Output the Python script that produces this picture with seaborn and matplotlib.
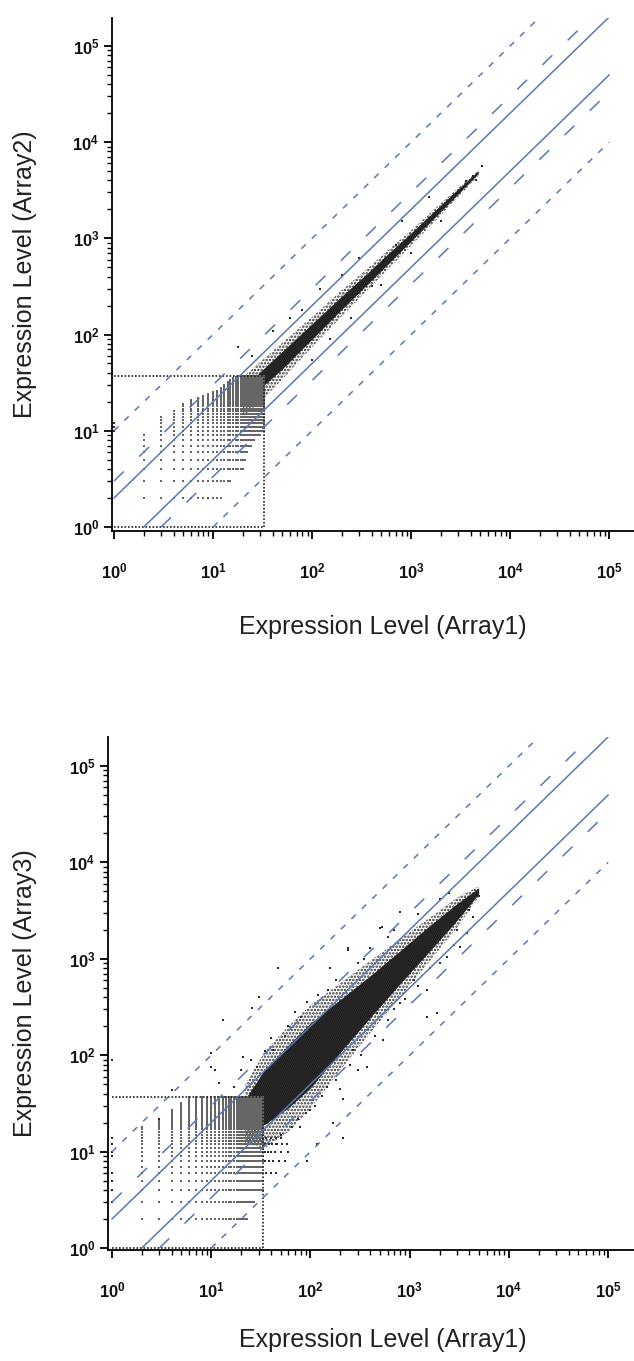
import numpy as np
import pandas as pd
import seaborn as sns
import matplotlib.pyplot as plt
from matplotlib.ticker import LogLocator, FuncFormatter, NullFormatter

# fold-change guide lines: 2x solid, 3x dashed, 10x dotted
fold_factors = [2, 3, 10]
box_x, box_y = 33, 37

# ---- Array1 vs Array2 ----
arr2_band_x = [20, 30, 50, 80, 120, 200, 350, 600, 1000, 1800, 3000, 4800]
arr2_core_lo = [20, 27, 43, 70, 106, 180, 315, 545, 920, 1680, 2850, 4650]
arr2_core_hi = [26, 40, 65, 102, 150, 245, 410, 690, 1110, 1960, 3200, 4950]
arr2_outer_lo = [14, 20, 34, 58, 90, 155, 280, 490, 840, 1560, 2700, 4500]
arr2_outer_hi = [36, 52, 82, 125, 180, 290, 470, 770, 1210, 2100, 3350, 5100]
arr2_grid_y = list(range(2, 38))
arr2_grid_xmin = [2, 2, 2, 2, 2, 2, 2, 2, 3, 3, 3, 3, 3, 4, 4, 5, 5, 5,
                  6, 6, 7, 8, 9, 10, 11, 12, 12, 13, 13, 14, 14, 15, 15, 16, 17, 18]
arr2_grid_xmax = [12, 15, 20, 21, 22, 24, 26, 30, 33, 33, 33, 33, 33, 33, 33, 33, 33, 33,
                  33, 33, 33, 33, 33, 33, 33, 33, 33, 33, 33, 33, 33, 33, 33, 33, 33, 33]
arr2_out_x = [1, 1, 1, 18, 25, 40, 60, 80, 120, 200, 300, 800, 1500, 100, 150, 250,
              500, 1000, 2000, 4200, 4500, 5200, 3600, 2600, 700, 400]
arr2_out_y = [10, 11, 12, 75, 60, 110, 150, 180, 300, 420, 620, 1500, 2700, 55, 90, 150,
              330, 700, 1500, 4400, 4000, 5600, 3900, 2500, 850, 320]

# ---- Array1 vs Array3 ----
arr3_band_x = [22, 35, 60, 100, 200, 400, 800, 1500, 3000, 5000]
arr3_core_lo = [18, 19, 28, 45, 105, 240, 540, 1100, 2450, 4650]
arr3_core_hi = [34, 70, 125, 210, 370, 650, 1180, 2050, 3650, 5350]
arr3_outer_lo = [12, 11, 16, 28, 70, 170, 400, 880, 2100, 4450]
arr3_outer_hi = [50, 110, 200, 330, 560, 950, 1600, 2550, 4300, 5650]
arr3_grid_y = list(range(2, 38))
arr3_grid_xmin = [2, 2, 2, 2, 2, 2, 2, 2, 2, 2, 2, 2, 2, 2, 2, 2, 2,
                  3, 3, 3, 3, 4, 4, 4, 4, 4, 5, 5, 5, 5, 5, 6, 6, 6, 6, 6]
arr3_grid_xmax = [23, 27] + [33] * 34
arr3_out_x = [47, 13, 30, 525, 400, 70, 93, 158, 240, 26, 42, 10, 800, 500, 240, 3230,
              4370, 2400, 1500, 1000, 1900, 3800, 800, 1500, 540, 370, 213, 213, 117, 92,
              170, 148, 270, 470, 100, 126, 79, 1, 10, 11, 12, 17, 21, 29, 4, 3,
              1, 1, 1, 1, 1, 1, 1, 1,
              60, 80, 120, 150, 180, 300, 350, 600, 700, 1200, 2000, 2500, 50, 65, 90,
              130, 180, 250, 320, 450, 600, 900, 1200, 2000, 2800, 40, 35, 55, 25, 20,
              45, 75, 110, 200, 300, 700, 1100, 1600, 3000, 4000, 5000,
              36, 40, 45, 35, 38, 42, 48, 55, 35, 37, 40, 44, 50, 60, 35, 38, 41, 46,
              52, 58, 36, 40, 45, 50]
arr3_out_y = [800, 230, 400, 2140, 1290, 280, 355, 800, 1230, 310, 113, 76, 3080, 2090,
              1290, 1320, 2700, 1050, 475, 710, 275, 1860, 350, 250, 145, 76, 35, 14, 12,
              8, 20, 47, 113, 275, 27, 76, 18, 89, 105, 70, 51, 47, 96, 76, 44, 22,
              3, 4, 5, 6, 9, 10, 12, 14,
              200, 250, 420, 480, 600, 900, 1000, 1700, 2000, 2900, 4200, 4800, 15, 18,
              25, 38, 55, 80, 100, 160, 230, 380, 520, 900, 1400, 150, 110, 160, 90, 70,
              12, 22, 30, 45, 70, 300, 600, 800, 2000, 3200, 4500,
              6, 6, 6, 8, 8, 8, 8, 8, 10, 10, 10, 10, 10, 10, 12, 12, 12, 12,
              12, 12, 14, 14, 14, 14]

line_color = '#5a78b2'
line_styles = {2: '-', 3: (0, (9, 14)), 10: (0, (4, 5.5))}

sns.set_theme(style='ticks')
plt.rcParams['font.family'] = ['Liberation Sans', 'DejaVu Sans']
plt.rcParams['mathtext.fontset'] = 'custom'
plt.rcParams['mathtext.rm'] = 'Liberation Sans'
plt.rcParams['mathtext.bf'] = 'Liberation Sans:bold'
plt.rcParams['mathtext.it'] = 'Liberation Sans:italic'
plt.rcParams['hatch.linewidth'] = 1.2


def grid_points(ys, xmins, xmaxs):
    rows = []
    for y, a, b in zip(ys, xmins, xmaxs):
        for x in range(a, b + 1):
            rows.append((x, y))
    return pd.DataFrame(rows, columns=['x', 'y'])


def draw_panel(ax, band_x, core_lo, core_hi, outer_lo, outer_hi,
               gy, gxmin, gxmax, out_x, out_y, xlim, ylim):
    ax.set_xscale('log')
    ax.set_yscale('log')

    # dense cloud of expressed genes
    ax.fill_between(band_x, outer_lo, outer_hi, facecolor='none', edgecolor='#2e2e2e',
                    hatch='.....', linewidth=0, zorder=1)
    ax.fill_between(band_x, core_lo, core_hi, facecolor='#3c3c3c', edgecolor='#111111',
                    hatch='........', linewidth=0, zorder=1)

    grid = grid_points(gy, gxmin, gxmax)
    sns.scatterplot(data=grid, x='x', y='y', ax=ax, s=0.6, marker='s', color='#666666',
                    linewidth=0, legend=False, zorder=2)
    sns.scatterplot(x=out_x, y=out_y, ax=ax, s=1.3, marker='s', color='#2a2a2a',
                    linewidth=0, legend=False, zorder=2)

    # low-intensity cutoff box
    box_style = dict(color='#222222', lw=1.2, ls=(0, (1, 1.1)), zorder=3)
    ax.plot([1, box_x], [box_y, box_y], **box_style)
    ax.plot([box_x, box_x], [1, box_y], **box_style)
    ax.plot([1, box_x], [1, 1], **box_style)

    for f in fold_factors:
        kw = dict(color=line_color, lw=1.1, ls=line_styles[f], zorder=4)
        ax.plot([1, 1e5], [f, f * 1e5], **kw)
        ax.plot([f, 1e5], [1, 1e5 / f], **kw)

    ax.set_xlim(*xlim)
    ax.set_ylim(*ylim)
    ax.set_xlabel('')
    ax.set_ylabel('')
    sns.despine(ax=ax)
    for side in ['left', 'bottom']:
        ax.spines[side].set_linewidth(1.3)
        ax.spines[side].set_color('black')

    fmt = FuncFormatter(lambda v, p: r'$\mathbf{10^{%d}}$' % round(np.log10(v)))
    for axis in [ax.xaxis, ax.yaxis]:
        axis.set_major_locator(LogLocator(base=10, numticks=12))
        axis.set_minor_locator(LogLocator(base=10, subs=range(2, 10), numticks=12))
        axis.set_major_formatter(fmt)
        axis.set_minor_formatter(NullFormatter())
    ax.tick_params(which='major', length=6, width=1.3, direction='out',
                   labelsize=12, color='black', labelcolor='#111111')
    ax.tick_params(which='minor', length=3.5, width=1.0, direction='out', color='black')
    ax.tick_params(axis='x', which='major', pad=16)
    ax.tick_params(axis='y', which='major', pad=3)


W, H = 634, 1361
fig = plt.figure(figsize=(W / 100, H / 100), dpi=100)

ax1 = fig.add_axes([112 / W, 1 - 531 / H, 522 / W, 513 / H])
draw_panel(ax1, arr2_band_x, arr2_core_lo, arr2_core_hi, arr2_outer_lo, arr2_outer_hi,
           arr2_grid_y, arr2_grid_xmin, arr2_grid_xmax, arr2_out_x, arr2_out_y,
           (10 ** -0.02, 10 ** 5.25), (10 ** -0.042, 10 ** 5.29))

ax2 = fig.add_axes([108 / W, 1 - 1250 / H, 526 / W, 513 / H])
draw_panel(ax2, arr3_band_x, arr3_core_lo, arr3_core_hi, arr3_outer_lo, arr3_outer_hi,
           arr3_grid_y, arr3_grid_xmin, arr3_grid_xmax, arr3_out_x, arr3_out_y,
           (10 ** -0.04, 10 ** 5.26), (10 ** -0.02, 10 ** 5.30))

label_kw = dict(fontsize=18, color='#222222', ha='center', va='center')
fig.text(383 / W, 1 - 627 / H, 'Expression Level (Array1)', **label_kw)
fig.text(25 / W, 1 - 274 / H, 'Expression Level (Array2)', rotation=90, **label_kw)
fig.text(383 / W, 1 - 1340 / H, 'Expression Level (Array1)', **label_kw)
fig.text(25 / W, 1 - 993 / H, 'Expression Level (Array3)', rotation=90, **label_kw)

fig.savefig('out.png', dpi=100)
